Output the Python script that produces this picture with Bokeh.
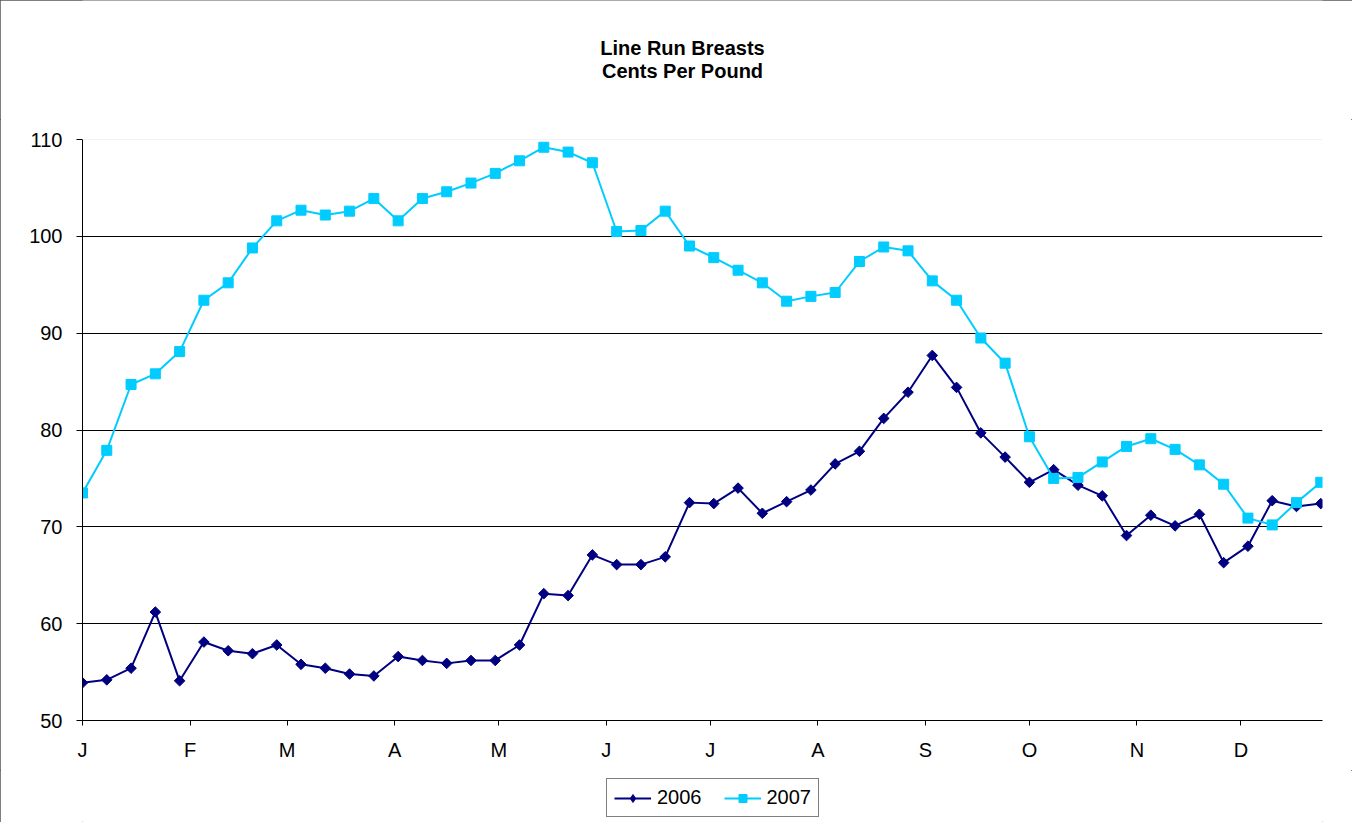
import math
from bokeh.plotting import figure
from bokeh.layouts import column
from bokeh.models import (Range1d, FixedTicker, Span, Legend, LegendItem, Label)
from bokeh.embed import file_html
from bokeh.resources import INLINE

# ---- data -------------------------------------------------------------
title_lines = ["Line Run Breasts", "Cents Per Pound"]

month_labels = ["J", "F", "M", "A", "M", "J", "J", "A", "S", "O", "N", "D"]
month_start_day = [0, 31, 59, 90, 120, 151, 181, 212, 243, 273, 304, 334]

# weekly observations (day of year of each week)
week_day = [7 * i for i in range(52)]

series_names = ["2006", "2007"]

price_2006 = [53.9, 54.2, 55.4, 61.2, 54.1, 58.1, 57.2, 56.9, 57.8, 55.8,
              55.4, 54.8, 54.6, 56.6, 56.2, 55.9, 56.2, 56.2, 57.8, 63.1,
              62.9, 67.1, 66.1, 66.1, 66.9, 72.5, 72.4, 74.0, 71.4, 72.6,
              73.8, 76.5, 77.8, 81.2, 83.9, 87.7, 84.4, 79.7, 77.2, 74.6,
              75.9, 74.3, 73.2, 69.1, 71.2, 70.1, 71.3, 66.3, 68.0, 72.7,
              72.1, 72.4]

price_2007 = [73.5, 77.9, 84.7, 85.8, 88.1, 93.4, 95.2, 98.8, 101.6, 102.7,
              102.2, 102.6, 103.9, 101.6, 103.9, 104.6, 105.5, 106.5, 107.8, 109.2,
              108.7, 107.6, 100.5, 100.6, 102.6, 99.0, 97.8, 96.5, 95.2, 93.3,
              93.8, 94.2, 97.4, 98.9, 98.5, 95.4, 93.4, 89.5, 86.9, 79.3,
              75.0, 75.1, 76.7, 78.3, 79.1, 78.0, 76.4, 74.4, 70.9, 70.2,
              72.5, 74.6]

y_ticks = [50, 60, 70, 80, 90, 100, 110]

# ---- styling ----------------------------------------------------------
FONT = "Liberation Sans"
W = 1352
FRAME_L, FRAME_R = 82, 1322
C06, C07 = "#000080", "#00CCFF"
TITLE_H = 119
DIAMOND = dict(marker="square", angle=math.pi / 4, size=7.5)
KEY_DIAMOND = dict(marker="diamond", size=13)
SQUARE = dict(marker="square", size=10)


def blank(fig):
    fig.outline_line_color = None
    fig.background_fill_color = "white"
    fig.border_fill_color = "white"
    fig.xgrid.grid_line_color = None
    fig.ygrid.grid_line_color = None


# ---- title strip (its frame is aligned with the chart's frame) --------
tf = figure(width=W, height=TITLE_H, output_backend="svg", toolbar_location=None,
            x_range=Range1d(FRAME_L, FRAME_R), y_range=Range1d(TITLE_H, 0),
            x_axis_location=None, y_axis_location=None,
            min_border=0, min_border_left=0, min_border_right=0,
            min_border_top=0, min_border_bottom=0)
blank(tf)
for txt, yc in zip(title_lines, (47, 70)):
    tf.add_layout(Label(x=682, y=yc, text=txt, text_align="center",
                        text_baseline="middle", text_font=FONT,
                        text_font_size="20px", text_font_style="bold",
                        text_color="black"))

# ---- main chart -------------------------------------------------------
p = figure(width=None, height=None, frame_width=FRAME_R - FRAME_L, frame_height=581,
           output_backend="svg", toolbar_location=None,
           x_range=Range1d(0, 357.5), y_range=Range1d(50, 110),
           min_border_left=FRAME_L, min_border_right=W - FRAME_R,
           min_border_top=20, min_border_bottom=50)
blank(p)

p.xaxis.ticker = FixedTicker(ticks=month_start_day)
p.xaxis.major_label_overrides = {d: m for d, m in zip(month_start_day, month_labels)}
p.yaxis.ticker = FixedTicker(ticks=y_ticks)
for ax in (p.xaxis[0], p.yaxis[0]):
    ax.axis_line_color = "black"
    ax.axis_line_width = 1
    ax.major_tick_line_color = "black"
    ax.major_tick_in = 0
    ax.minor_tick_line_color = None
    ax.major_label_text_font = FONT
    ax.major_label_text_font_size = "20px"
    ax.major_label_text_color = "black"
p.yaxis.major_tick_out = 6
p.yaxis.major_label_standoff = 14
p.xaxis.major_tick_out = 5
p.xaxis.major_label_standoff = 13

p.ygrid.ticker = FixedTicker(ticks=[60, 70, 80, 90, 100])
p.ygrid.grid_line_color = "black"
p.ygrid.grid_line_width = 1
p.add_layout(Span(location=110, dimension="width", line_color="#e6e6e6", line_width=1))

p.line(week_day, price_2006, line_color=C06, line_width=2)
p.scatter(week_day, price_2006, fill_color=C06, line_color=C06, **DIAMOND)
p.line(week_day, price_2007, line_color=C07, line_width=2)
p.scatter(week_day, price_2007, fill_color=C07, line_color=C07, **SQUARE)

# ---- legend strip -----------------------------------------------------
chart_h = 20 + 581 + 50
LEG_H = 822 - TITLE_H - chart_h
# key swatches: first point of each series, kept outside the strip's view
lf = figure(width=W, height=LEG_H, output_backend="svg", toolbar_location=None,
            x_range=Range1d(-20, -10), y_range=Range1d(0, 1),
            x_axis_location=None, y_axis_location=None,
            min_border=0, min_border_left=0, min_border_right=0,
            min_border_top=0, min_border_bottom=0)
blank(lf)
k06 = [lf.line(week_day[:1], price_2006[:1], line_color=C06, line_width=2),
       lf.scatter(week_day[:1], price_2006[:1], fill_color=C06, line_color=C06, **KEY_DIAMOND)]
k07 = [lf.line(week_day[:1], price_2007[:1], line_color=C07, line_width=2),
       lf.scatter(week_day[:1], price_2007[:1], fill_color=C07, line_color=C07, **SQUARE)]
legend = Legend(items=[LegendItem(label=series_names[0], renderers=k06),
                       LegendItem(label=series_names[1], renderers=k07)],
                orientation="horizontal", location=(606 - FRAME_L, 5),
                border_line_color="black", border_line_width=1,
                background_fill_color="white", background_fill_alpha=1,
                padding=7, spacing=22, margin=0,
                glyph_width=37, glyph_height=20, label_standoff=6,
                label_text_font=FONT, label_text_font_size="20px",
                label_text_color="black")
lf.add_layout(legend, "center")

layout = column(tf, p, lf, spacing=0)
layout.styles = {"outline": "1px solid #555555", "outline-offset": "-1px"}

open("out.html", "w").write(file_html(layout, INLINE))
